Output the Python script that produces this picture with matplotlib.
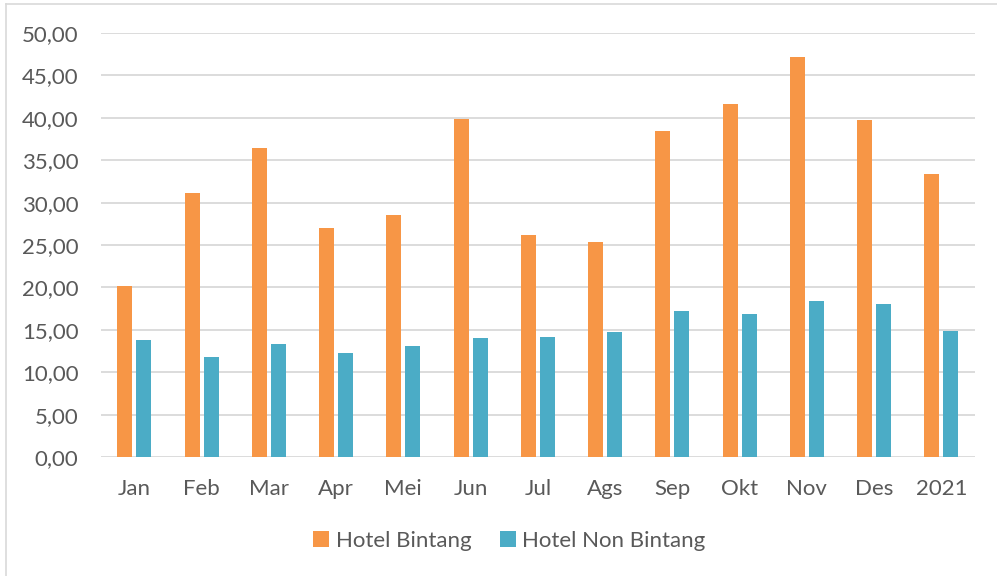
import matplotlib.pyplot as plt
import numpy as np
from matplotlib.lines import Line2D


# Data.
months = ['Jan', 'Feb', 'Mar', 'Apr', 'Mei', 'Jun', 'Jul', 'Ags',
          'Sep', 'Okt', 'Nov', 'Des', '2021']
bintang = [20.15, 31.17, 36.44, 27.00, 28.50, 39.90, 26.20, 25.34,
           38.44, 41.60, 47.13, 39.77, 33.33]
non_bintang = [13.80, 11.75, 13.33, 12.30, 13.13, 14.03, 14.10, 14.75,
               17.20, 16.84, 18.45, 18.06, 14.87]
y_ticks = [0, 5, 10, 15, 20, 25, 30, 35, 40, 45, 50]

orange = '#f79646'
teal = '#4bacc6'
text_col = '#595959'
grid_col = '#d9d9d9'

plt.rcParams['font.family'] = ['Lato', 'DejaVu Sans']

fig = plt.figure(figsize=(9.97, 5.76), dpi=100)
ax = fig.add_axes([0.101, 0.2066, 0.877, 0.7361])

x = np.arange(len(months))
w = 0.223
off = 0.142

ax.bar(x - off, bintang, w, color=orange, label='Hotel Bintang', zorder=3)
ax.bar(x + off, non_bintang, w, color=teal, label='Hotel Non Bintang',
       zorder=3)

ax.set_xlim(-0.5, len(months) - 0.5)
ax.set_ylim(0, 50)
ax.set_yticks(y_ticks)
ax.set_yticklabels([('%.2f' % v).replace('.', ',') for v in y_ticks])
ax.set_xticks(x)
ax.set_xticklabels(months)

ax.grid(axis='y', color=grid_col, linewidth=1.3, zorder=0)
for s in ax.spines.values():
    s.set_visible(False)
ax.tick_params(axis='both', length=0, labelsize=16, labelcolor=text_col)
ax.tick_params(axis='y', pad=16)
ax.tick_params(axis='x', pad=16)

# Chart area border (top and left edges visible).
fig.add_artist(Line2D([6 / 997, 1.0], [1 - 4 / 576, 1 - 4 / 576],
                      transform=fig.transFigure, color=grid_col, lw=1.2))
fig.add_artist(Line2D([6 / 997, 6 / 997], [0, 1 - 4 / 576],
                      transform=fig.transFigure, color=grid_col, lw=1.2))

fig.legend(loc='center', bbox_to_anchor=(0.511, 1 - 541 / 576), ncol=2,
           frameon=False, fontsize=16, labelcolor=text_col,
           handlelength=0.7, handleheight=0.7, handletextpad=0.3,
           columnspacing=1.3)

fig.savefig('out.png', dpi=100)
